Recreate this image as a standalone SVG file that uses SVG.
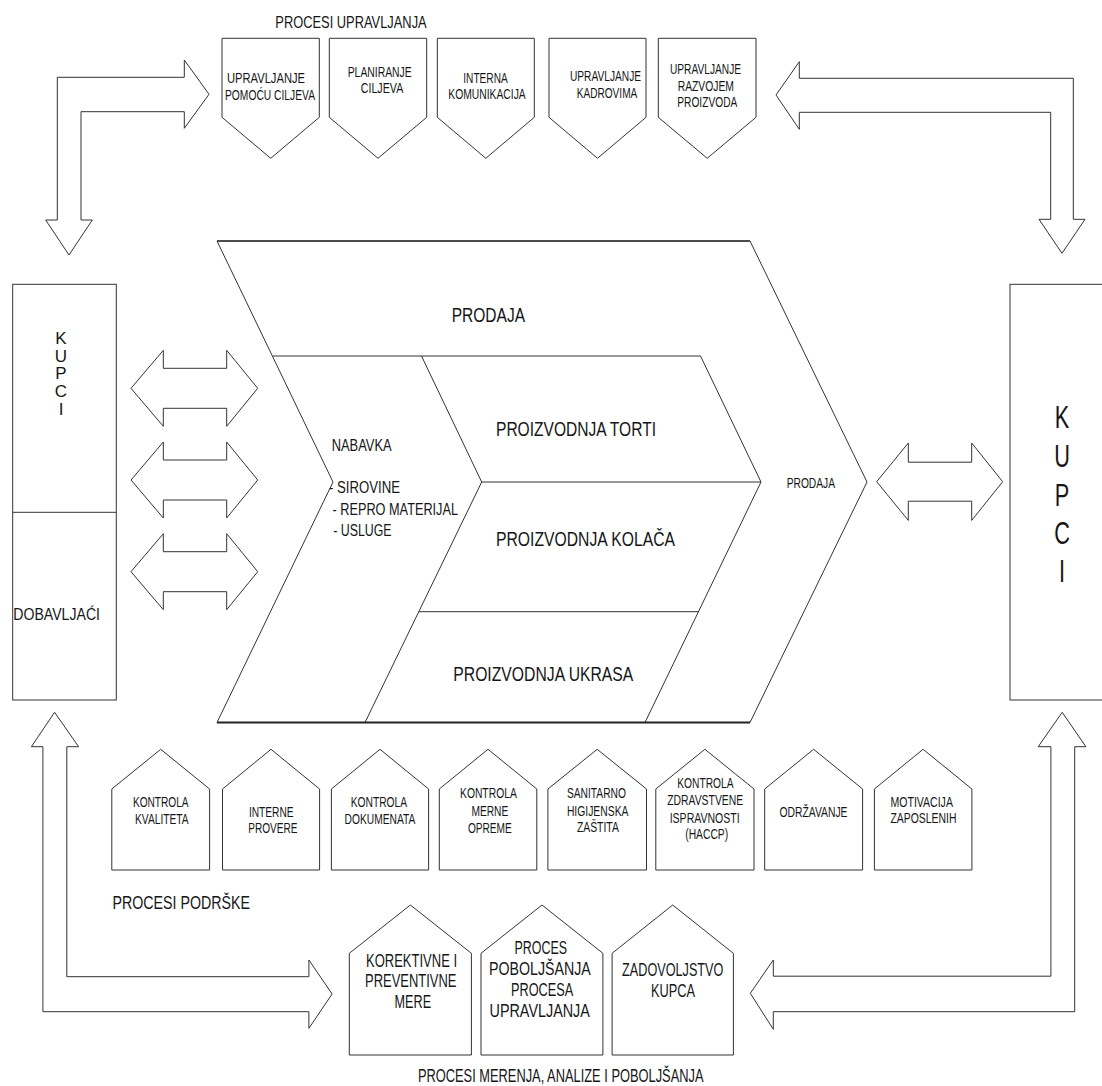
<svg xmlns="http://www.w3.org/2000/svg" width="1102" height="1086" viewBox="0 0 1102 1086">
<style>
.s{fill:#fff;stroke:#333;stroke-width:1}
.l{fill:none;stroke:#333;stroke-width:1}
.b{fill:none;stroke:#222;stroke-width:1.8}
text{font-family:"Liberation Sans",Arial,sans-serif;fill:#161616}
.f14{font-size:14px}.f16{font-size:16px}.f17{font-size:17px}.f18{font-size:18px}.f19{font-size:19px}.f21{font-size:21px}
.v{writing-mode:vertical-rl;text-orientation:upright}
</style>
<rect width="1102" height="1086" fill="#fff"/>

<g id="connectors">
  <polygon class="s" points="209,94.3 184.3,60 184.3,77.3 57.3,77.3 57.3,220 45.7,220 69,255 92.3,220 81,220 81,111.7 184.3,111.7 184.3,128.3"/>
  <polygon class="s" points="776,95 799.3,61.7 799.3,78.3 1073.3,78.3 1073.3,219.3 1085,219.3 1062,253.3 1039,219.3 1050.7,219.3 1050.7,112.3 799.3,112.3 799.3,129.3"/>
  <polygon class="s" points="131,388.3 163.3,350.3 163.3,368.3 226.7,368.3 226.7,350.3 257.7,388.3 226.7,426.3 226.7,408.3 163.3,408.3 163.3,426.3"/>
  <polygon class="s" points="131,480 163.3,442 163.3,460 226.7,460 226.7,442 257.7,480 226.7,518 226.7,500 163.3,500 163.3,518"/>
  <polygon class="s" points="131,571.7 163.3,533.7 163.3,551.7 226.7,551.7 226.7,533.7 257.7,571.7 226.7,609.7 226.7,591.7 163.3,591.7 163.3,609.7"/>
  <polygon class="s" points="876.7,481.7 908.3,443 908.3,462.2 971.7,462.2 971.7,443 1002.7,481.7 971.7,520.4 971.7,501.2 908.3,501.2 908.3,520.4"/>
  <polygon class="s" points="54.6,712.3 78.6,746.7 66.8,746.7 66.8,976.7 308.9,976.7 308.9,960 332.1,994 308.9,1028.3 308.9,1011.7 42.9,1011.7 42.9,746.7 31.4,746.7"/>
  <polygon class="s" points="750.3,993.3 773.3,960 773.3,976.2 1050.9,976.2 1050.9,746.7 1038.2,746.7 1062.2,712.3 1085.9,746.7 1074.7,746.7 1074.7,1011.7 773.3,1011.7 773.3,1029.3"/>
</g>

<g id="title-upravljanja">
  <text class="f17" x="275.3" y="28.3" textLength="151.4" lengthAdjust="spacingAndGlyphs">PROCESI UPRAVLJANJA</text>
</g>

<g id="p1">
  <polygon class="s" points="222,38.3 319.3,38.3 319.3,117.3 270.7,158.3 222,117.3"/>
  <text class="f14" x="227" y="83.3" textLength="78" lengthAdjust="spacingAndGlyphs">UPRAVLJANJE</text>
  <text class="f14" x="225" y="100" textLength="90" lengthAdjust="spacingAndGlyphs">POMOĆU CILJEVA</text>
</g>
<g id="p2">
  <polygon class="s" points="329.3,38.3 426.7,38.3 426.7,117.3 378,158.3 329.3,117.3"/>
  <text class="f14" x="347.7" y="76.7" textLength="64" lengthAdjust="spacingAndGlyphs">PLANIRANJE</text>
  <text class="f14" x="360.7" y="93.3" textLength="42.6" lengthAdjust="spacingAndGlyphs">CILJEVA</text>
</g>
<g id="p3">
  <polygon class="s" points="437.3,38.3 534.3,38.3 534.3,117.3 485.8,158.3 437.3,117.3"/>
  <text class="f14" x="463.3" y="82.7" textLength="44.4" lengthAdjust="spacingAndGlyphs">INTERNA</text>
  <text class="f14" x="448.3" y="99.3" textLength="77.4" lengthAdjust="spacingAndGlyphs">KOMUNIKACIJA</text>
</g>
<g id="p4">
  <polygon class="s" points="549,38.3 646,38.3 646,117.3 597.5,158.3 549,117.3"/>
  <text class="f14" x="570" y="81" textLength="71" lengthAdjust="spacingAndGlyphs">UPRAVLJANJE</text>
  <text class="f14" x="576.7" y="98" textLength="60.6" lengthAdjust="spacingAndGlyphs">KADROVIMA</text>
</g>
<g id="p5">
  <polygon class="s" points="658.3,38.3 756,38.3 756,117.3 707.2,158.3 658.3,117.3"/>
  <text class="f14" x="670" y="74" textLength="71" lengthAdjust="spacingAndGlyphs">UPRAVLJANJE</text>
  <text class="f14" x="677.7" y="90.7" textLength="56.3" lengthAdjust="spacingAndGlyphs">RAZVOJEM</text>
  <text class="f14" x="677.3" y="107.3" textLength="60" lengthAdjust="spacingAndGlyphs">PROIZVODA</text>
</g>

<g id="left-box">
  <rect class="s" x="12.7" y="284.3" width="103.6" height="415.7"/>
  <line class="l" x1="12.7" y1="512.3" x2="116.3" y2="512.3"/>
  <text class="f17 v" x="61" y="329" style="letter-spacing:-1.3px">KUPCI</text>
  <text class="f17" x="13.3" y="620" textLength="86.7" lengthAdjust="spacingAndGlyphs">DOBAVLJAĆI</text>
</g>

<g id="right-box">
  <rect class="s" x="1010" y="284.3" width="100" height="415.7"/>
  <text text-anchor="middle" style="font-size:32px" transform="translate(1062,0) scale(0.68,1)"><tspan x="0" y="428.3">K</tspan><tspan x="0" y="467.5">U</tspan><tspan x="0" y="506.5">P</tspan><tspan x="0" y="544.5">C</tspan><tspan x="0" y="582">I</tspan></text>
</g>

<g id="chevron">
  <polygon class="s" points="217,241 750,241 867,482 750,722.5 217,722.5 333,482"/>
  <line class="l" x1="272.7" y1="356" x2="700.5" y2="356"/>
  <polyline class="l" points="700.5,356 761,482 645,722.5"/>
  <polyline class="l" points="421.5,356 481.7,482 365,722.5"/>
  <line class="l" x1="481.7" y1="482" x2="761" y2="482"/>
  <line class="l" x1="418.8" y1="611.7" x2="698.5" y2="611.7"/>
  <line class="b" x1="217" y1="722.5" x2="750" y2="722.5"/>
  <line class="l" x1="217" y1="241" x2="750" y2="241" style="stroke-width:1.3"/>
  <text class="f21" x="451.7" y="321.7" textLength="73.3" lengthAdjust="spacingAndGlyphs">PRODAJA</text>
  <text class="f21" x="496" y="435.7" textLength="160" lengthAdjust="spacingAndGlyphs">PROIZVODNJA TORTI</text>
  <text class="f21" x="496" y="545.7" textLength="179" lengthAdjust="spacingAndGlyphs">PROIZVODNJA KOLAČA</text>
  <text class="f21" x="453.3" y="681" textLength="180" lengthAdjust="spacingAndGlyphs">PROIZVODNJA UKRASA</text>
  <text class="f17" x="331.7" y="450.7" textLength="60" lengthAdjust="spacingAndGlyphs">NABAVKA</text>
  <text class="f16" x="329" y="493.3" textLength="71" lengthAdjust="spacingAndGlyphs">- SIROVINE</text>
  <text class="f16" x="332.5" y="515" textLength="125.5" lengthAdjust="spacingAndGlyphs">- REPRO MATERIJAL</text>
  <text class="f16" x="333.3" y="536" textLength="58.3" lengthAdjust="spacingAndGlyphs">- USLUGE</text>
  <text class="f14" x="786.7" y="488.3" textLength="48.3" lengthAdjust="spacingAndGlyphs">PRODAJA</text>
</g>

<g id="h1">
  <polygon class="s" points="111.8,870 111.8,789 160.7,749.3 209.6,789 209.6,870"/>
  <text class="f14" x="132.9" y="806.7" textLength="55.7" lengthAdjust="spacingAndGlyphs">KONTROLA</text>
  <text class="f14" x="135" y="824" textLength="53.6" lengthAdjust="spacingAndGlyphs">KVALITETA</text>
</g>
<g id="h2">
  <polygon class="s" points="222.5,870 222.5,789 271,749.3 319.6,789 319.6,870"/>
  <text class="f14" x="248.9" y="816.7" textLength="44.7" lengthAdjust="spacingAndGlyphs">INTERNE</text>
  <text class="f14" x="248.2" y="833.3" textLength="49.3" lengthAdjust="spacingAndGlyphs">PROVERE</text>
</g>
<g id="h3">
  <polygon class="s" points="331.4,870 331.4,789 380,749.3 428.6,789 428.6,870"/>
  <text class="f14" x="350.7" y="806.7" textLength="56.4" lengthAdjust="spacingAndGlyphs">KONTROLA</text>
  <text class="f14" x="344.6" y="824" textLength="70.8" lengthAdjust="spacingAndGlyphs">DOKUMENATA</text>
</g>
<g id="h4">
  <polygon class="s" points="439.3,870 439.3,789 488,749.3 536.8,789 536.8,870"/>
  <text class="f14" x="460" y="798.3" textLength="56.8" lengthAdjust="spacingAndGlyphs">KONTROLA</text>
  <text class="f14" x="471.4" y="815.7" textLength="36.8" lengthAdjust="spacingAndGlyphs">MERNE</text>
  <text class="f14" x="467.9" y="833.3" textLength="43.9" lengthAdjust="spacingAndGlyphs">OPREME</text>
</g>
<g id="h5">
  <polygon class="s" points="547.9,870 547.9,789 597.2,749.3 646.5,789 646.5,870"/>
  <text class="f14" x="566.9" y="798.3" textLength="59.1" lengthAdjust="spacingAndGlyphs">SANITARNO</text>
  <text class="f14" x="566.9" y="815.7" textLength="61.6" lengthAdjust="spacingAndGlyphs">HIGIJENSKA</text>
  <text class="f14" x="576.9" y="832.3" textLength="42" lengthAdjust="spacingAndGlyphs">ZAŠTITA</text>
</g>
<g id="h6">
  <polygon class="s" points="655.8,870 655.8,789 704.9,749.3 754,789 754,870"/>
  <text class="f14" x="677.3" y="787.7" textLength="56.2" lengthAdjust="spacingAndGlyphs">KONTROLA</text>
  <text class="f14" x="667.2" y="805" textLength="76" lengthAdjust="spacingAndGlyphs">ZDRAVSTVENE</text>
  <text class="f14" x="669.7" y="822.7" textLength="69.9" lengthAdjust="spacingAndGlyphs">ISPRAVNOSTI</text>
  <text class="f14" x="685.2" y="839.3" textLength="43" lengthAdjust="spacingAndGlyphs">(HACCP)</text>
</g>
<g id="h7">
  <polygon class="s" points="764.7,870 764.7,789 813.6,749.3 862.6,789 862.6,870"/>
  <text class="f14" x="779.4" y="816.7" textLength="68.1" lengthAdjust="spacingAndGlyphs">ODRŽAVANJE</text>
</g>
<g id="h8">
  <polygon class="s" points="874.4,870 874.4,789 923.1,749.3 971.9,789 971.9,870"/>
  <text class="f14" x="890.5" y="806.7" textLength="62.4" lengthAdjust="spacingAndGlyphs">MOTIVACIJA</text>
  <text class="f14" x="890.5" y="823.3" textLength="66" lengthAdjust="spacingAndGlyphs">ZAPOSLENIH</text>
</g>

<g id="title-podrske">
  <text class="f19" x="112.5" y="908.8" textLength="137.5" lengthAdjust="spacingAndGlyphs">PROCESI PODRŠKE</text>
</g>

<g id="r1">
  <polygon class="s" points="349.3,1055 349.3,953.3 410.4,905 471.4,953.3 471.4,1055"/>
  <text class="f18" x="366" y="966.7" textLength="91.1" lengthAdjust="spacingAndGlyphs">KOREKTIVNE I</text>
  <text class="f18" x="365" y="987.3" textLength="91.4" lengthAdjust="spacingAndGlyphs">PREVENTIVNE</text>
  <text class="f18" x="394.6" y="1007.7" textLength="36.5" lengthAdjust="spacingAndGlyphs">MERE</text>
</g>
<g id="r2">
  <polygon class="s" points="481,1055 481,953.3 542,905 602.9,953.3 602.9,1055"/>
  <text class="f18" x="514.5" y="954" textLength="52.6" lengthAdjust="spacingAndGlyphs">PROCES</text>
  <text class="f18" x="489" y="975" textLength="101.8" lengthAdjust="spacingAndGlyphs">POBOLJŠANJA</text>
  <text class="f18" x="511" y="996" textLength="62.2" lengthAdjust="spacingAndGlyphs">PROCESA</text>
  <text class="f18" x="489.5" y="1017.3" textLength="100.4" lengthAdjust="spacingAndGlyphs">UPRAVLJANJA</text>
</g>
<g id="r3">
  <polygon class="s" points="612.1,1055 612.1,953.3 672.7,905 733.4,953.3 733.4,1055"/>
  <text class="f18" x="622.1" y="976" textLength="101.3" lengthAdjust="spacingAndGlyphs">ZADOVOLJSTVO</text>
  <text class="f18" x="650.9" y="996.7" textLength="44.1" lengthAdjust="spacingAndGlyphs">KUPCA</text>
</g>

<g id="title-merenja">
  <text x="417.9" y="1081.7" style="font-size:17.5px" textLength="285.6" lengthAdjust="spacingAndGlyphs">PROCESI MERENJA, ANALIZE I POBOLJŠANJA</text>
</g>
</svg>
